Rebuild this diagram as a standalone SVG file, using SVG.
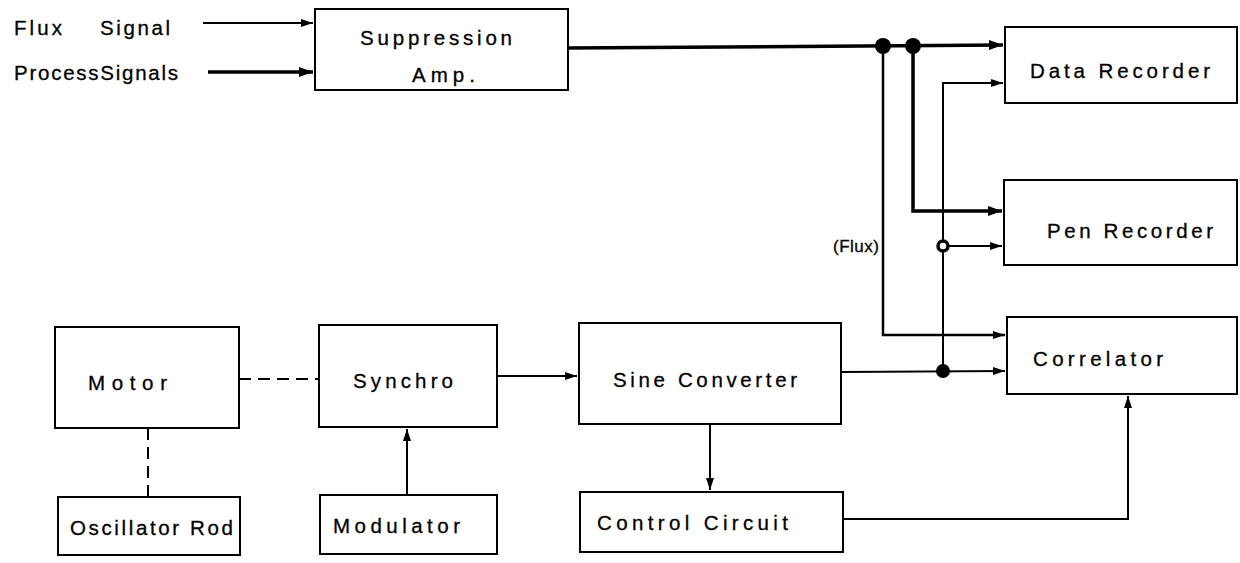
<svg xmlns="http://www.w3.org/2000/svg" width="1240" height="563" viewBox="0 0 1240 563">
<style>
.box{fill:#fff;stroke:#000;stroke-width:2}
.t{font-family:"Liberation Sans",Arial,sans-serif;font-size:20.5px;fill:#000;stroke:#000;stroke-width:0.3}
.thin{fill:none;stroke:#000;stroke-width:2}
.thick{fill:none;stroke:#000;stroke-width:3.5}
.dash{fill:none;stroke:#000;stroke-width:2;stroke-dasharray:12 7}
.dot{fill:#000}
</style>
<defs>
<marker id="a" markerUnits="userSpaceOnUse" markerWidth="14" markerHeight="10" refX="12" refY="4" orient="auto"><path d="M0,0 L12,4 L0,8 z" fill="#000"/></marker>
<marker id="ab" markerUnits="userSpaceOnUse" markerWidth="16" markerHeight="12" refX="14" refY="5" orient="auto"><path d="M0,0 L14,5 L0,10 z" fill="#000"/></marker>
</defs>
<rect width="1240" height="563" fill="#fff"/>

<g id="connectors">
<path class="thin" d="M203,23 H313" marker-end="url(#a)"/>
<path class="thick" d="M208,72 H313" marker-end="url(#ab)"/>
<path class="thick" d="M568,48 L1003,45" marker-end="url(#ab)"/>
<path class="thin" style="stroke-width:2.5" d="M883,46 V335 H1005" marker-end="url(#a)"/>
<path class="thick" d="M913,46 V211 H1002" marker-end="url(#ab)"/>
<path class="thin" d="M943,371 V83 H1003" marker-end="url(#a)"/>
<path class="thin" d="M943,246 H1002" marker-end="url(#a)"/>
<path class="thin" d="M841,372 L1005,371" marker-end="url(#a)"/>
<path class="thin" d="M843,519 H1128 V396" marker-end="url(#a)"/>
<path class="thin" d="M497,376 H577" marker-end="url(#a)"/>
<path class="thin" d="M407,495 V429" marker-end="url(#a)"/>
<path class="thin" d="M710,424 V490" marker-end="url(#a)"/>
<path class="dash" d="M239,379 H319"/>
<path class="dash" d="M148,428 V497"/>
<circle class="dot" cx="883" cy="46" r="8"/>
<circle class="dot" cx="913" cy="46" r="8"/>
<circle class="dot" cx="943" cy="371" r="7"/>
<circle cx="943" cy="246" r="5" fill="#fff" stroke="#000" stroke-width="3.5"/>
</g>

<g id="inputs">
<text class="t" x="14" y="35" textLength="48" lengthAdjust="spacing">Flux</text>
<text class="t" x="100" y="35" textLength="70" lengthAdjust="spacing">Signal</text>
<text class="t" x="14" y="80" textLength="164" lengthAdjust="spacing">ProcessSignals</text>
</g>

<g id="suppression-amp">
<rect class="box" x="315" y="9" width="253" height="81"/>
<text class="t" x="360" y="45" textLength="152" lengthAdjust="spacing">Suppression</text>
<text class="t" x="412" y="82" textLength="63" lengthAdjust="spacing">Amp.</text>
</g>

<g id="data-recorder">
<rect class="box" x="1005" y="27" width="232" height="76"/>
<text class="t" x="1030" y="78" textLength="180" lengthAdjust="spacing">Data  Recorder</text>
</g>

<g id="pen-recorder">
<rect class="box" x="1004" y="180" width="233" height="85"/>
<text class="t" x="1047" y="238" textLength="166" lengthAdjust="spacing">Pen  Recorder</text>
</g>

<g id="flux-label">
<text class="t" style="font-size:17px" x="833" y="252" textLength="46" lengthAdjust="spacing">(Flux)</text>
</g>

<g id="correlator">
<rect class="box" x="1007" y="317" width="230" height="77"/>
<text class="t" x="1033" y="366" textLength="130" lengthAdjust="spacing">Correlator</text>
</g>

<g id="motor">
<rect class="box" x="55" y="327" width="184" height="101"/>
<text class="t" x="88" y="390" textLength="79" lengthAdjust="spacing">Motor</text>
</g>

<g id="synchro">
<rect class="box" x="319" y="325" width="178" height="102"/>
<text class="t" x="353" y="388" textLength="100" lengthAdjust="spacing">Synchro</text>
</g>

<g id="sine-converter">
<rect class="box" x="579" y="323" width="262" height="101"/>
<text class="t" x="613" y="387" textLength="184" lengthAdjust="spacing">Sine  Converter</text>
</g>

<g id="oscillator-rod">
<rect class="box" x="58" y="497" width="182" height="58"/>
<text class="t" x="70" y="535" textLength="163" lengthAdjust="spacing">Oscillator Rod</text>
</g>

<g id="modulator">
<rect class="box" x="320" y="495" width="177" height="59"/>
<text class="t" x="333" y="533" textLength="127" lengthAdjust="spacing">Modulator</text>
</g>

<g id="control-circuit">
<rect class="box" x="580" y="492" width="263" height="60"/>
<text class="t" x="597" y="530" textLength="191" lengthAdjust="spacing">Control  Circuit</text>
</g>
</svg>
